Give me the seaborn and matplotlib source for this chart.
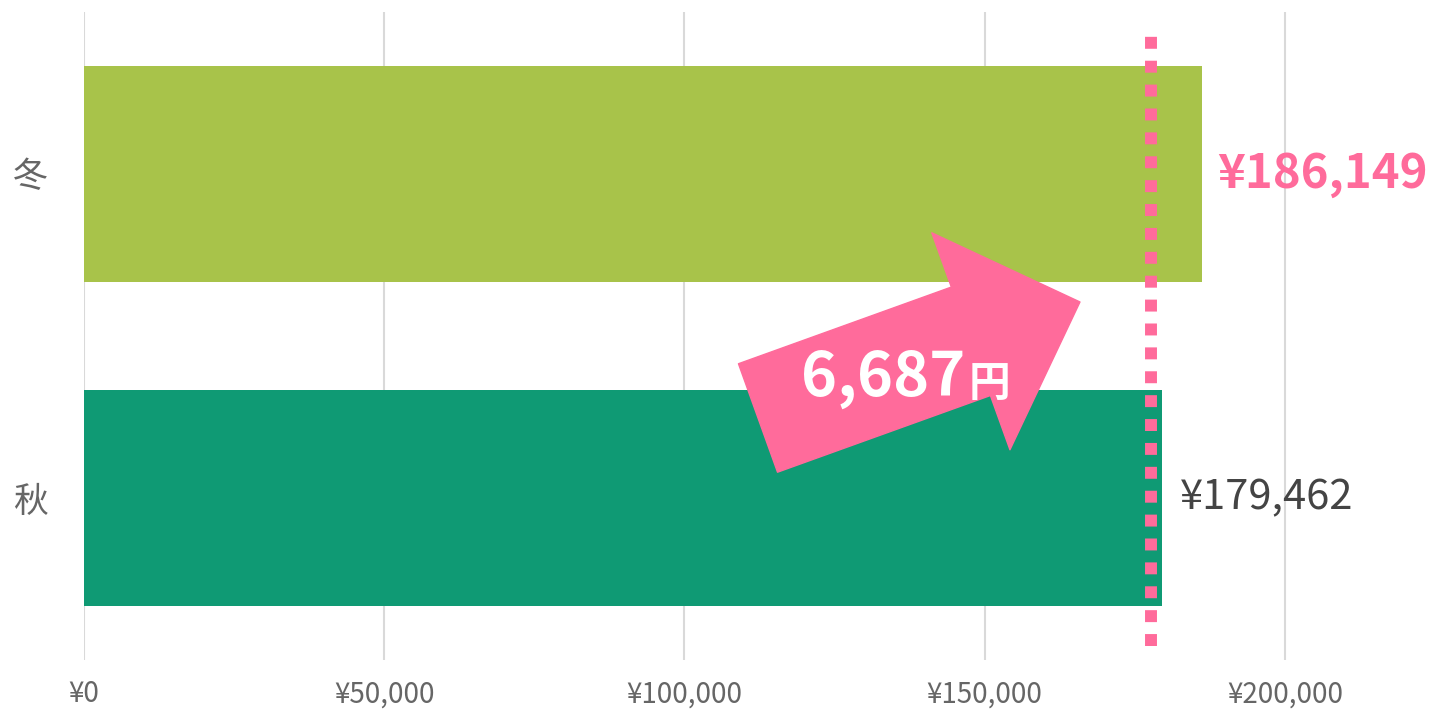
import matplotlib
matplotlib.use("Agg")
import matplotlib.pyplot as plt
import seaborn as sns
import pandas as pd

# ---- data ----
seasons = ["冬", "秋"]
amounts = [186149, 179462]
bar_colors = ["#A8C34A", "#0F9A74"]
diff_label = "6,687"
diff_unit = "円"
ref_line_value = 177700
xticks = [0, 50000, 100000, 150000, 200000]
xtick_labels = ["¥0", "¥50,000", "¥100,000", "¥150,000", "¥200,000"]

PINK = "#FF6B9B"

sns.set_theme(style="white")
plt.rcParams["font.family"] = ["Noto Sans CJK JP", "DejaVu Sans"]

df = pd.DataFrame({"season": seasons, "amount": amounts})

fig = plt.figure(figsize=(14.32, 7.12), dpi=100)
ax = fig.add_axes([84 / 1432, 52 / 712, 1 - 84 / 1432, 648 / 712])

sns.barplot(data=df, x="amount", y="season", hue="season", palette=bar_colors,
            orient="h", width=0.667, legend=False, ax=ax, saturation=1, zorder=2,
            linewidth=0, edgecolor="none")

ax.set_xlim(0, 224480)
ax.set_ylim(1.5, -0.5)
ax.set_xticks(xticks)
ax.set_xticklabels(xtick_labels, fontsize=20, color="#666666")
ax.tick_params(axis="x", length=0, pad=14)
ax.tick_params(axis="y", length=0, pad=26, labelsize=25, labelcolor="#666666")
ax.set_xlabel("")
ax.set_ylabel("")
ax.grid(axis="x", color="#D9D9D9", linewidth=1.5, zorder=0)
ax.set_axisbelow(True)
for s in ax.spines.values():
    s.set_visible(False)

# value labels
ax.annotate(f"¥{amounts[0]:,}", xy=(amounts[0], 0), xytext=(11, 0),
            textcoords="offset points", va="center", ha="left",
            fontsize=34, fontweight="bold", color=PINK)
ax.annotate(f"¥{amounts[1]:,}", xy=(amounts[1], 1), xytext=(13, 0),
            textcoords="offset points", va="center", ha="left",
            fontsize=30, color="#444444")

# dotted reference line
ax.axvline(ref_line_value, ymin=0.0216, ymax=0.963, color=PINK,
           linewidth=8.6, linestyle=(0, (1, 1)), dash_capstyle="butt", zorder=3)

# arrow annotation
tail = (112240, 0.753)
tip = (165860, 0.395)
ax.annotate("", xy=tip, xytext=tail,
            arrowprops=dict(arrowstyle="simple,head_length=0.835,head_width=1.66,tail_width=0.83",
                            mutation_scale=100, color=PINK, shrinkA=0, shrinkB=0,
                            connectionstyle="arc3,rad=0"), zorder=4)

ax.text(146700, 0.685, diff_label, ha="right", va="baseline", fontsize=44,
        fontweight="bold", color="white", zorder=5)
ax.text(147300, 0.685, diff_unit, ha="left", va="baseline", fontsize=30,
        fontweight="bold", color="white", zorder=5)

fig.savefig("out.png", dpi=100)
